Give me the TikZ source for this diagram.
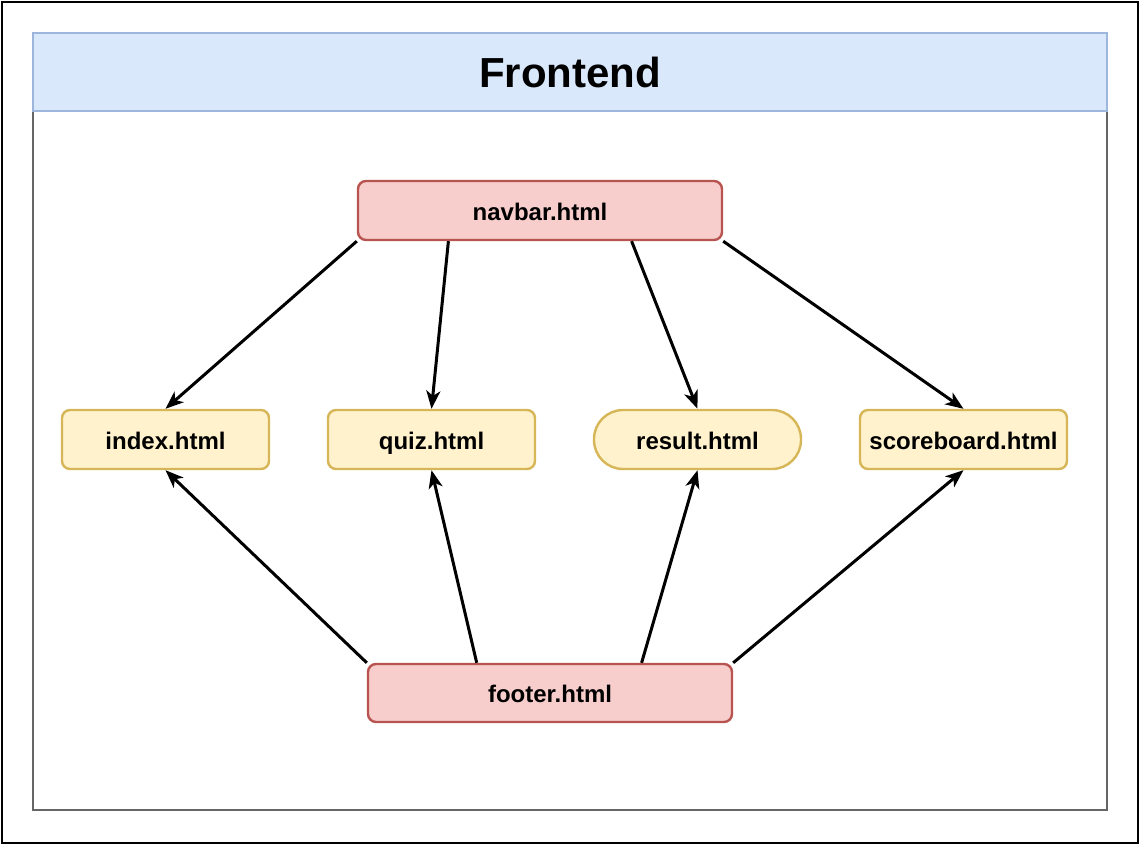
\documentclass[tikz,border=0pt]{standalone}
\usepackage{fontspec}
\setmainfont{Liberation Sans}
\usetikzlibrary{positioning, arrows.meta, calc}
\definecolor{hdrfill}{HTML}{DAE8FC}
\definecolor{hdrdraw}{HTML}{9DB6DC}
\definecolor{redfill}{HTML}{F8CECC}
\definecolor{reddraw}{HTML}{B85450}
\definecolor{yelfill}{HTML}{FFF2CC}
\definecolor{yeldraw}{HTML}{D6B656}
\tikzset{
    partbox/.style={rectangle, rounded corners=8pt, draw=reddraw, fill=redfill, minimum width=364pt, minimum height=59pt, align=center, text height=22pt, text depth=3pt, font=\fontsize{24}{28}\selectfont\bfseries, line width=2.4pt},
    pagebox/.style={rectangle, rounded corners=8pt, draw=yeldraw, fill=yelfill, minimum width=207pt, minimum height=59pt, align=center, text height=22pt, text depth=3pt, font=\fontsize{24}{28}\selectfont\bfseries, line width=2.4pt},
    pagepill/.style={pagebox, rounded corners=29pt},
    arr/.style={-{Stealth[length=18pt, width=14pt, inset=5pt]}, line width=3pt, color=black}
}
\begin{document}
\begin{tikzpicture}[x=1pt, y=-1pt]
    \useasboundingbox (0,0) rectangle (1140,845);
    \draw[line width=2.5pt] (2,2) rectangle (1138,843);
    % container
    \draw[line width=1.5pt, draw=black!60] (33,33) rectangle (1107,810);
    \draw[fill=hdrfill, draw=hdrdraw, line width=1.5pt] (33,33) rectangle (1107,111);
    \node[font=\fontsize{42}{48}\selectfont\bfseries] (title) at (570,72) {Frontend};
    % shared parts
    \node[partbox] (navbar) at (540,210.5) {navbar.html};
    \node[partbox, minimum height=58pt] (footer) at (550,693) {footer.html};
    % pages
    \node[pagebox] (index) at (165.5,439.5) {index.html};
    \node[pagebox, right=56.6pt of index] (quiz) {quiz.html};
    \node[pagepill, right=56.6pt of quiz] (result) {result.html};
    \node[pagebox, right=56.6pt of result] (scoreboard) {scoreboard.html};
    \draw[arr] (navbar.south west) -- (index.north);
    \draw[arr] ($(navbar.south west)!0.25!(navbar.south east)$) -- (quiz.north);
    \draw[arr] ($(navbar.south west)!0.75!(navbar.south east)$) -- (result.north);
    \draw[arr] (navbar.south east) -- (scoreboard.north);
    \draw[arr] (footer.north west) -- (index.south);
    \draw[arr] ($(footer.north west)!0.3!(footer.north east)$) -- (quiz.south);
    \draw[arr] ($(footer.north west)!0.75!(footer.north east)$) -- (result.south);
    \draw[arr] (footer.north east) -- (scoreboard.south);
\end{tikzpicture}
\end{document}
